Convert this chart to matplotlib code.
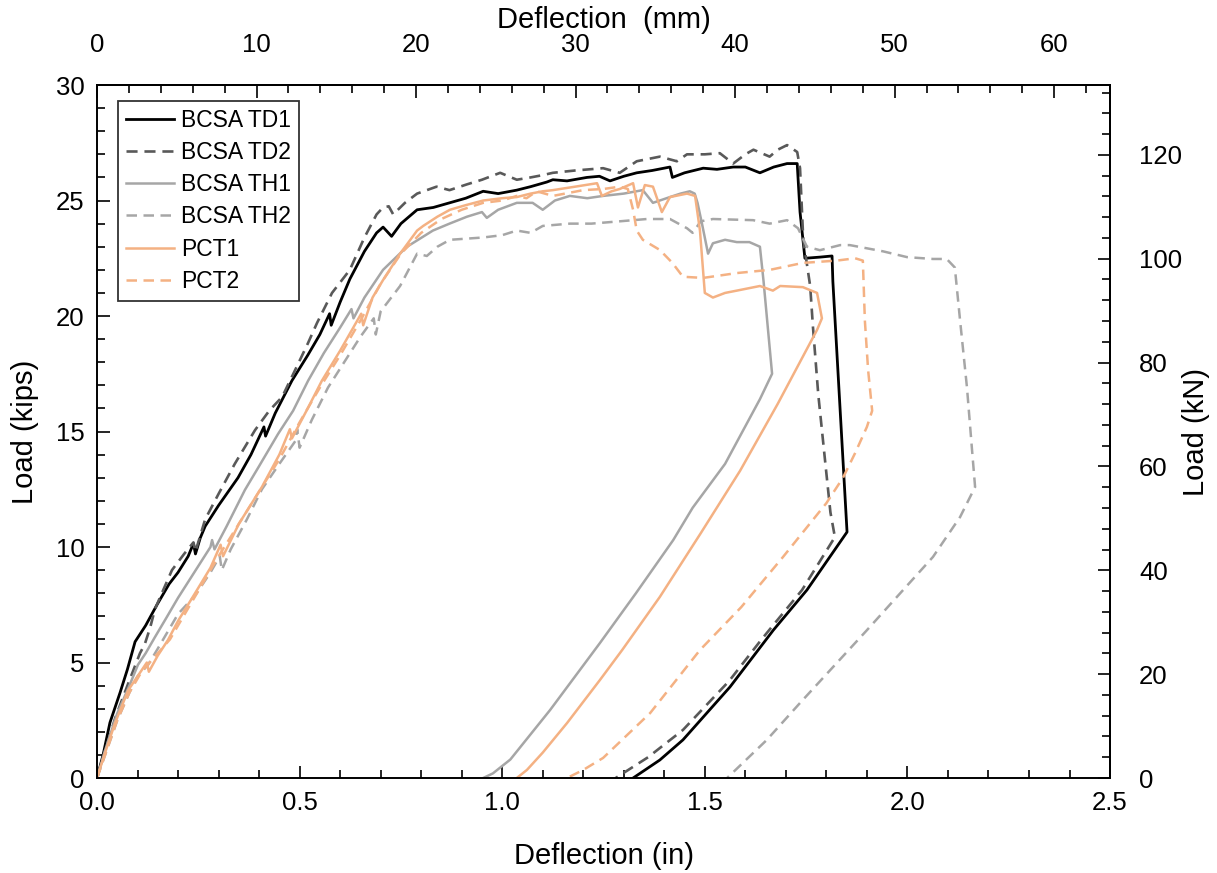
"""Load-deflection curves for the BCSA and PCT specimens, in/kips with mm/kN secondary axes."""

import matplotlib

matplotlib.use("Agg")
import matplotlib.pyplot as plt
from matplotlib.ticker import FixedLocator, MultipleLocator

plt.rcParams["font.family"] = ["Liberation Sans", "DejaVu Sans"]

IN_TO_MM = 25.4
KIP_TO_KN = 4.448

# deflection (in), load (kips)
td1_x = [0, 0.015, 0.032, 0.057, 0.075, 0.094, 0.12, 0.148, 0.178, 0.2, 0.225, 0.238, 0.243, 0.255,
         0.267, 0.3, 0.348, 0.38, 0.412, 0.416, 0.44, 0.481, 0.52, 0.55, 0.574, 0.578, 0.6, 0.624,
         0.66, 0.69, 0.706, 0.727, 0.75, 0.79, 0.83, 0.87, 0.91, 0.953, 0.99, 1.036, 1.07, 1.11,
         1.125, 1.16, 1.209, 1.24, 1.266, 1.3, 1.332, 1.37, 1.414, 1.42, 1.45, 1.496, 1.53, 1.57,
         1.6, 1.636, 1.67, 1.703, 1.728, 1.735, 1.747, 1.784, 1.814, 1.816, 1.851, 1.752, 1.669,
         1.562, 1.446, 1.389, 1.323]
td1_y = [0, 1.0, 2.4, 3.7, 4.7, 5.9, 6.6, 7.5, 8.4, 8.9, 9.6, 10.15, 9.7, 10.4,
         10.9, 11.8, 13.0, 14.0, 15.2, 14.8, 15.8, 17.2, 18.3, 19.2, 20.1, 19.6, 20.6, 21.6,
         22.8, 23.6, 23.85, 23.45, 24.0, 24.6, 24.7, 24.9, 25.1, 25.4, 25.3, 25.45, 25.6, 25.8,
         25.9, 25.85, 26.0, 26.05, 25.85, 26.05, 26.2, 26.3, 26.45, 26.0, 26.2, 26.4, 26.35, 26.45,
         26.45, 26.2, 26.45, 26.6, 26.6, 24.5, 22.5, 22.55, 22.6, 21.5, 10.65, 8.14, 6.4,
         3.94, 1.65, 0.78, 0]

td2_x = [0, 0.02, 0.045, 0.075, 0.106, 0.118, 0.131, 0.143, 0.155, 0.185, 0.215, 0.238, 0.243,
         0.267, 0.3, 0.34, 0.39, 0.425, 0.457, 0.49, 0.52, 0.543, 0.58, 0.624, 0.66, 0.69, 0.706,
         0.72, 0.731, 0.76, 0.79, 0.838, 0.87, 0.913, 0.95, 0.995, 1.036, 1.07, 1.1, 1.125, 1.18,
         1.249, 1.29, 1.332, 1.389, 1.431, 1.456, 1.5, 1.537, 1.57, 1.6, 1.62, 1.66, 1.68, 1.703,
         1.728, 1.735, 1.743, 1.76, 1.767, 1.78, 1.797, 1.81, 1.821, 1.74, 1.64, 1.56, 1.446,
         1.36, 1.28]
td2_y = [0, 1.2, 2.6, 4.0, 5.4, 5.8, 6.5, 7.3, 7.8, 9.0, 9.7, 10.2, 9.8,
         11.2, 12.3, 13.6, 15.06, 15.9, 16.5, 17.7, 18.8, 19.7, 21.0, 22.0, 23.4, 24.4, 24.7,
         24.75, 24.4, 24.9, 25.3, 25.6, 25.45, 25.7, 25.9, 26.2, 25.9, 26.0, 26.1, 26.2, 26.3,
         26.4, 26.2, 26.7, 26.9, 26.7, 27.0, 27.0, 27.05, 26.6, 27.0, 27.2, 26.9, 27.2, 27.4,
         27.1, 26.4, 23.3, 21.3, 19.5, 16.6, 13.7, 11.5, 10.43, 8.14, 6.0, 4.2, 2.08,
         0.9, 0]

th1_x = [0, 0.02, 0.05, 0.08, 0.101, 0.12, 0.143, 0.17, 0.2, 0.24, 0.28, 0.284, 0.29, 0.32,
         0.365, 0.4, 0.447, 0.484, 0.521, 0.56, 0.6, 0.628, 0.633, 0.66, 0.706, 0.765, 0.829,
         0.87, 0.913, 0.95, 0.962, 0.99, 1.036, 1.075, 1.1, 1.13, 1.167, 1.21, 1.249, 1.3, 1.347,
         1.372, 1.414, 1.44, 1.463, 1.475, 1.482, 1.493, 1.508, 1.52, 1.55, 1.579, 1.61, 1.636,
         1.645, 1.656, 1.666, 1.636, 1.55, 1.47, 1.422, 1.33, 1.241, 1.118, 1.02, 0.977, 0.953]
th1_y = [0, 1.2, 2.8, 4.0, 4.9, 5.4, 6.1, 6.9, 7.8, 8.9, 10.0, 10.3, 9.9, 10.9,
         12.47, 13.5, 14.9, 15.9, 17.2, 18.4, 19.5, 20.3, 19.9, 20.8, 22.0, 23.0, 23.7,
         24.0, 24.3, 24.5, 24.25, 24.6, 24.9, 24.9, 24.6, 25.0, 25.2, 25.1, 25.2, 25.3, 25.45,
         24.9, 25.15, 25.3, 25.4, 25.3, 24.9, 24.0, 22.7, 23.15, 23.3, 23.2, 23.2, 23.0,
         21.5, 19.4, 17.5, 16.4, 13.6, 11.7, 10.3, 8.0, 5.84, 2.94, 0.8, 0.2, 0]

th2_x = [0, 0.02, 0.05, 0.08, 0.1, 0.126, 0.15, 0.2, 0.242, 0.28, 0.303, 0.308, 0.33, 0.37,
         0.407, 0.45, 0.49, 0.494, 0.5, 0.53, 0.57, 0.61, 0.65, 0.683, 0.688, 0.7, 0.748, 0.79,
         0.814, 0.84, 0.871, 0.953, 1.0, 1.036, 1.07, 1.1, 1.167, 1.22, 1.29, 1.357, 1.414, 1.456,
         1.47, 1.49, 1.52, 1.619, 1.66, 1.703, 1.73, 1.752, 1.784, 1.834, 1.858, 1.94, 1.999,
         2.063, 2.097, 2.117, 2.13, 2.147, 2.159, 2.167, 2.13, 2.063, 1.9, 1.735, 1.653, 1.555]
th2_y = [0, 1.0, 2.5, 3.7, 4.4, 4.9, 5.6, 7.1, 7.9, 8.9, 9.6, 9.0, 9.9, 11.2,
         12.5, 13.6, 14.6, 15.1, 14.3, 15.5, 16.9, 18.0, 19.1, 19.9, 19.2, 20.2, 21.3, 22.7,
         22.6, 23.0, 23.3, 23.4, 23.5, 23.7, 23.6, 23.9, 24.0, 24.0, 24.1, 24.2, 24.2, 23.8,
         23.6, 24.1, 24.2, 24.15, 24.0, 24.15, 23.8, 23.0, 22.85, 23.07, 23.07, 22.8, 22.55,
         22.47, 22.47, 22.1, 19.8, 16.9, 14.3, 12.6, 11.3, 9.57, 6.4, 3.25, 1.65, 0]

pct1_x = [0, 0.02, 0.045, 0.077, 0.1, 0.123, 0.128, 0.15, 0.175, 0.2, 0.242, 0.28, 0.305, 0.311,
          0.35, 0.407, 0.45, 0.476, 0.481, 0.52, 0.555, 0.6, 0.652, 0.657, 0.68, 0.706, 0.748,
          0.79, 0.805, 0.84, 0.871, 0.91, 0.953, 1.0, 1.036, 1.07, 1.1, 1.125, 1.18, 1.234, 1.246,
          1.27, 1.29, 1.323, 1.335, 1.352, 1.372, 1.394, 1.414, 1.456, 1.476, 1.488, 1.5, 1.52,
          1.55, 1.579, 1.636, 1.668, 1.686, 1.742, 1.777, 1.789, 1.777, 1.68, 1.587, 1.49, 1.389,
          1.296, 1.241, 1.16, 1.1, 1.061, 1.036]
pct1_y = [0, 1.1, 2.4, 3.8, 4.4, 5.0, 4.6, 5.3, 5.97, 6.8, 8.0, 9.1, 10.1, 9.6,
          11.0, 12.6, 14.0, 15.1, 14.7, 16.0, 17.2, 18.5, 20.1, 19.6, 20.8, 21.56, 22.7,
          23.7, 23.9, 24.3, 24.6, 24.8, 25.0, 25.1, 25.15, 25.3, 25.4, 25.45, 25.6, 25.75, 25.2,
          25.4, 25.5, 25.75, 24.7, 25.67, 25.6, 24.5, 25.15, 25.3, 25.2, 23.7, 21.0, 20.8,
          21.0, 21.1, 21.3, 21.1, 21.3, 21.25, 21.0, 19.9, 19.4, 16.2, 13.3, 10.6, 7.84,
          5.54, 4.24, 2.38, 1.1, 0.35, 0]

pct2_x = [0, 0.02, 0.05, 0.08, 0.11, 0.14, 0.18, 0.22, 0.26, 0.3, 0.35, 0.4, 0.45, 0.5, 0.55,
          0.6, 0.65, 0.7, 0.75, 0.8, 0.85, 0.9, 0.953, 1.0, 1.036, 1.06, 1.085, 1.125, 1.2, 1.25,
          1.29, 1.31, 1.323, 1.332, 1.347, 1.389, 1.42, 1.446, 1.496, 1.579, 1.661, 1.742, 1.826,
          1.871, 1.89, 1.895, 1.903, 1.913, 1.9, 1.871, 1.841, 1.8, 1.693, 1.59, 1.488, 1.365,
          1.249, 1.2, 1.16]
pct2_y = [0, 1.0, 2.5, 3.7, 4.6, 5.2, 6.0, 7.2, 8.4, 9.6, 11.0, 12.4, 13.8, 15.4, 16.9,
          18.3, 19.8, 21.4, 22.7, 23.6, 24.2, 24.6, 24.9, 25.0, 25.2, 25.1, 25.4, 25.2, 25.45, 25.5,
          25.6, 25.5, 24.6, 23.7, 23.3, 22.86, 22.3, 21.7, 21.65, 21.86, 22.0, 22.3, 22.4,
          22.5, 22.4, 19.8, 17.66, 15.9, 15.2, 14.07, 13.0, 11.9, 9.57, 7.4, 5.54, 2.81,
          0.87, 0.35, 0]

LABELS = ["BCSA TD1", "BCSA TD2", "BCSA TH1", "BCSA TH2", "PCT1", "PCT2"]
SERIES = [(td1_x, td1_y), (td2_x, td2_y), (th1_x, th1_y), (th2_x, th2_y),
          (pct1_x, pct1_y), (pct2_x, pct2_y)]
DASH = (0, (4.2, 2.6))
STYLES = [
    dict(color="#000000", lw=2.0, ls="-"),
    dict(color="#595959", lw=1.9, ls=DASH),
    dict(color="#a6a6a6", lw=1.8, ls="-"),
    dict(color="#a6a6a6", lw=1.8, ls=DASH),
    dict(color="#f4b183", lw=1.8, ls="-"),
    dict(color="#f4b183", lw=1.8, ls=DASH),
]

LABEL_FS = 21
TICK_FS = 18.5

fig = plt.figure(figsize=(12.17, 8.73), dpi=100)
ax = fig.add_axes([0.0797, 0.1088, 0.8324, 0.7938])

for (x, y), label, st in zip(SERIES, LABELS, STYLES):
    ax.plot(x, y, label=label, color=st["color"], linewidth=st["lw"], linestyle=st["ls"])

ax.set_xlim(0, 2.5)
ax.set_ylim(0, 30)
ax.xaxis.set_major_locator(MultipleLocator(0.5))
ax.xaxis.set_minor_locator(MultipleLocator(0.1))
ax.yaxis.set_major_locator(MultipleLocator(5))
ax.yaxis.set_minor_locator(MultipleLocator(1))
ax.xaxis.set_major_formatter(lambda v, p: f"{v:.1f}")
ax.set_xlabel("Deflection (in)", fontsize=LABEL_FS, labelpad=20)
ax.set_ylabel("Load (kips)", fontsize=LABEL_FS, labelpad=12)

top = ax.secondary_xaxis("top", functions=(lambda v: v * IN_TO_MM, lambda v: v / IN_TO_MM))
top.xaxis.set_major_locator(FixedLocator([0, 10, 20, 30, 40, 50, 60]))
top.xaxis.set_minor_locator(FixedLocator([v for v in range(0, 64, 2) if v % 10]))
top.set_xlabel("Deflection  (mm)", fontsize=LABEL_FS, labelpad=4)

right = ax.secondary_yaxis("right", functions=(lambda v: v * KIP_TO_KN, lambda v: v / KIP_TO_KN))
right.yaxis.set_major_locator(FixedLocator([0, 20, 40, 60, 80, 100, 120]))
right.yaxis.set_minor_locator(FixedLocator([v for v in range(0, 133, 4) if v % 20]))
right.set_ylabel("Load (kN)", fontsize=LABEL_FS, labelpad=0)

ax.tick_params(which="major", direction="in", length=9, width=1.2, labelsize=TICK_FS, pad=9)
ax.tick_params(which="minor", direction="in", length=5.5, width=1.2)
top.tick_params(which="major", direction="in", length=9, width=1.2, labelsize=TICK_FS, pad=20)
top.tick_params(which="minor", direction="in", length=5.5, width=1.2)
right.tick_params(which="major", direction="in", length=9, width=1.2, labelsize=TICK_FS, pad=21)
right.tick_params(which="minor", direction="in", length=5.5, width=1.2)
for sp in ax.spines.values():
    sp.set_linewidth(1.4)
top.spines["top"].set_linewidth(1.4)
right.spines["right"].set_linewidth(1.4)

leg = ax.legend(loc="upper left", bbox_to_anchor=(0.021, 0.977), fontsize=16.5, frameon=True,
                fancybox=False, edgecolor="#000000", handlelength=2.1, handletextpad=0.3,
                labelspacing=0.4, borderpad=0.35, borderaxespad=0)
leg.get_frame().set_linewidth(1.3)

fig.savefig("out.png", dpi=100, facecolor="white")
